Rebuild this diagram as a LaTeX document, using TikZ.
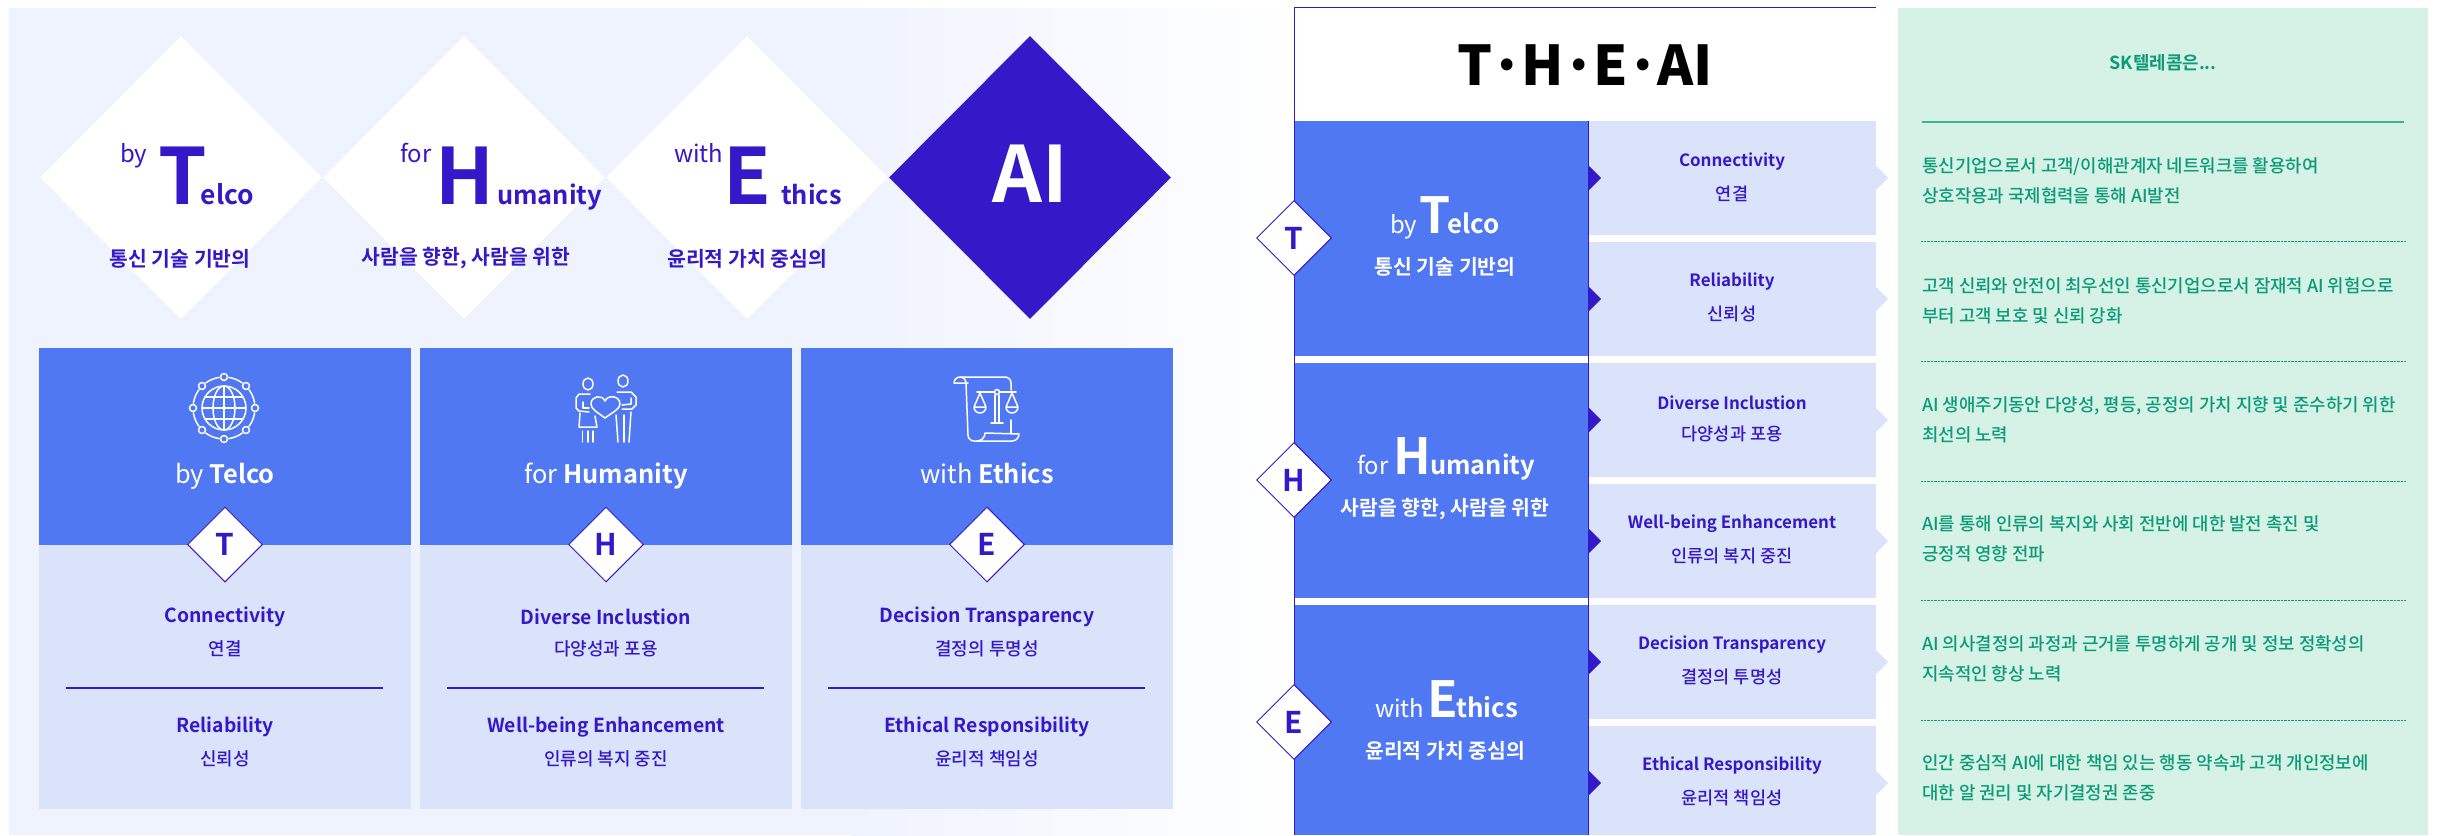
\documentclass[tikz,border=0pt]{standalone}
\usepackage{fontspec}
\setmainfont{Noto Sans CJK KR}[BoldFont={Noto Sans CJK KR Bold}]
\newfontfamily\medfont{Noto Sans CJK KR Medium}
\newfontfamily\blackfont{Noto Sans CJK KR Black}
\usetikzlibrary{shapes.geometric}
\definecolor{paleblue}{HTML}{EFF3FE}
\definecolor{midblue}{HTML}{5078F2}
\definecolor{lightblue}{HTML}{DBE3FB}
\definecolor{violet}{HTML}{3518C8}
\definecolor{palegreen}{HTML}{D6F2E6}
\definecolor{deepgreen}{HTML}{0B9B76}
\definecolor{rulegreen}{HTML}{3DB294}
\newcommand{\fs}[1]{\fontsize{#1}{#1}\selectfont}
\begin{document}
\begin{tikzpicture}[x=1bp,y=-1bp]
\tikzstyle{every node}+=[inner sep=0pt]
\tikzstyle{bigdia}=[diamond,minimum width=282bp,minimum height=283bp]
\tikzstyle{smalldia}=[diamond,fill=white,draw=violet,line width=1pt,minimum width=75bp,minimum height=75bp,text=violet,font=\fs{30}\bfseries]
\tikzstyle{icon}=[white,line width=1.5bp,line cap=round,line join=round]
\tikzstyle{small}=[anchor=base west,font=\fs{24}]
\tikzstyle{big}=[anchor=base west,font=\fs{78}\bfseries]
\tikzstyle{rest}=[anchor=base west,font=\fs{25.5}\bfseries]
\tikzstyle{kor}=[font=\fs{20.5}\bfseries]
\tikzstyle{head}=[violet,font=\fs{19.4}\bfseries]
\tikzstyle{sub}=[violet,font=\fs{18}\medfont]
\tikzstyle{shead}=[violet,font=\fs{17}\bfseries]
\tikzstyle{ssub}=[violet,font=\fs{17.6}\medfont]
\tikzstyle{desc}=[deepgreen,anchor=west,align=left,font=\fontsize{17.9}{30}\selectfont\medfont]
\useasboundingbox (0,0) rectangle (2443,835);
% left background
\fill [paleblue] (9,8) rectangle (850,835);
\shade [left color=paleblue,right color=white] (850,8) rectangle (1294,835);
% top diamonds
\node [bigdia,fill=white] (diaT) at (181,177.5) {};
\node [bigdia,fill=white] (diaH) at (464,177.5) {};
\node [bigdia,fill=white] (diaE) at (747,177.5) {};
\node [bigdia,fill=violet] (diaAI) at (1030,177.5) {};
\node [small,violet] (byT) at (120,162) {by};
\node [big,violet] (bigT) at (158,204) {T};
\node [rest,font=\fs{26.5}\bfseries,violet] (restT) at (200.5,204) {elco};
\node [kor,violet] (korT) at (180,258.5) {통신 기술 기반의};
\node [small,violet] (forH) at (400,162) {for};
\node [big,violet] (bigH) at (435,204) {H};
\node [rest,violet] (restH) at (497,204) {umanity};
\node [kor,violet] (korH) at (466,258.5) {사람을 향한, 사람을 위한};
\node [small,violet] (withE) at (674,162) {with};
\node [big,violet] (bigE) at (723,204) {E};
\node [rest,violet] (restE) at (781,204) {thics};
\node [kor,violet] (korE) at (747,258.5) {윤리적 가치 중심의};
\node [white,font=\fs{78}\bfseries] (textAI) at (1030,174) {AI};
% cards
\fill [midblue] (39,348) rectangle (411,544.5);
\fill [lightblue] (39,544.5) rectangle (411,809);
\fill [midblue] (420,348) rectangle (792,545);
\fill [lightblue] (420,545) rectangle (792,809);
\fill [midblue] (801,348) rectangle (1173,545);
\fill [lightblue] (801,545) rectangle (1173,809);
\node [white,anchor=base,font=\fs{25.5}] (capT) at (225,483) {by \textbf{Telco}};
\node [white,anchor=base,font=\fs{25.5}] (capH) at (606,483) {for \textbf{Humanity}};
\node [white,anchor=base,font=\fs{25.5}] (capE) at (987,483) {with \textbf{Ethics}};
\node [smalldia] (cardT) at (225,544.5) {T};
\node [smalldia] (cardH) at (606,544.5) {H};
\node [smalldia] (cardE) at (987,544.5) {E};
\node [head] (conA) at (225,617) {Connectivity};
\node [sub] (conB) at (225,649) {연결};
\draw [violet,line width=1.2bp] (66,688) -- (383,688);
\node [head] (relA) at (225,727) {Reliability};
\node [sub] (relB) at (225,759) {신뢰성};
\node [head] (divA) at (606,617) {Diverse Inclustion};
\node [sub] (divB) at (606,649) {다양성과 포용};
\draw [violet,line width=1.2bp] (447,688) -- (764,688);
\node [head] (welA) at (606,727) {Well-being Enhancement};
\node [sub] (welB) at (606,759) {인류의 복지 중진};
\node [head] (decA) at (987,617) {Decision Transparency};
\node [sub] (decB) at (987,649) {결정의 투명성};
\draw [violet,line width=1.2bp] (828,688) -- (1145,688);
\node [head] (ethA) at (987,727) {Ethical Responsibility};
\node [sub] (ethB) at (987,759) {윤리적 책임성};
% globe icon
\draw [icon] (224,408) circle (22);
\draw [icon] (224,408) ellipse (11 and 22);
\draw [icon] (224,386) -- (224,430);
\draw [icon] (202,408) -- (246,408);
\draw [icon] (205,397) -- (243,397);
\draw [icon] (205,419) -- (243,419);
\draw [icon] (255,408) circle (3.5);
\draw [icon] (246,430) circle (3.5);
\draw [icon] (224,439) circle (3.5);
\draw [icon] (202,430) circle (3.5);
\draw [icon] (193,408) circle (3.5);
\draw [icon] (202,386) circle (3.5);
\draw [icon] (224,377) circle (3.5);
\draw [icon] (246,386) circle (3.5);
\draw [icon] ([shift={(224,408)}]9:31) arc (9:36:31);
\draw [icon] ([shift={(224,408)}]54:31) arc (54:81:31);
\draw [icon] ([shift={(224,408)}]99:31) arc (99:126:31);
\draw [icon] ([shift={(224,408)}]144:31) arc (144:171:31);
\draw [icon] ([shift={(224,408)}]189:31) arc (189:216:31);
\draw [icon] ([shift={(224,408)}]234:31) arc (234:261:31);
\draw [icon] ([shift={(224,408)}]279:31) arc (279:306:31);
\draw [icon] ([shift={(224,408)}]324:31) arc (324:351:31);
% people icon
\draw [icon] (588,384) ellipse (5 and 6);
\draw [icon] (623,381) ellipse (5 and 6);
\draw [icon] (605,418) .. controls (597,412) and (591,409) .. (591,404) .. controls (591,396) and (602,394) .. (605,401) .. controls (608,394) and (620,396) .. (620,404) .. controls (620,409) and (613,412) .. (605,418);
\draw [icon] (590,394) -- (579,394) -- (576,398) -- (576,408) -- (579,411) -- (589,412);
\draw [icon] (583,402) -- (583,408) -- (589,408);
\draw [icon] (580,413) -- (579,427) -- (597,427) -- (595,416);
\draw [icon] (582.5,431) -- (582.5,442);
\draw [icon] (588,431) -- (588,442);
\draw [icon] (593,431) -- (593,442);
\draw [icon] (617,392) -- (631,392) -- (636,397) -- (636,405) -- (632,409) -- (622,409);
\draw [icon] (631,398) -- (631,404) -- (622,405);
\draw [icon] (616,415) -- (618,442);
\draw [icon] (624,415) -- (624,442);
\draw [icon] (631,412) -- (629,442);
% scroll icon
\draw [icon] (968,383) -- (954,383) arc (180:270:6) -- (1005,377) arc (270:360:6) -- (1011,390);
\draw [icon] (960,377) arc (270:360:6) -- (968,435) arc (180:90:6) -- (1012,441) arc (90:0:7) -- (985,433) arc (0:90:8);
\draw [icon] (1011,420) -- (1011,433);
\draw [icon] (977,392) -- (994.5,392);
\draw [icon] (999.5,392) -- (1016,392);
\draw [icon] (997,392) circle (2.5);
\draw [icon] (995,395) -- (995,423);
\draw [icon] (999,395) -- (999,423);
\draw [icon] (991,423) -- (1003,423);
\draw [icon] (974,407) -- (980,393) -- (986,407) -- (974,407) arc (180:0:6);
\draw [icon] (1006,407) -- (1012,393) -- (1018,407) -- (1006,407) arc (180:0:6);
% right panel
\fill [white] (1294,7) rectangle (1876,121);
\fill [midblue] (1294,121) rectangle (1588,356);
\fill [midblue] (1294,363) rectangle (1588,598);
\fill [midblue] (1294,605) rectangle (1588,835);
\fill [lightblue] (1589,121) rectangle (1876,235);
\fill [lightblue] (1589,242) rectangle (1876,356);
\fill [lightblue] (1589,363) rectangle (1876,477);
\fill [lightblue] (1589,484) rectangle (1876,598);
\fill [lightblue] (1589,605) rectangle (1876,719);
\fill [lightblue] (1589,726) rectangle (1876,835);
\fill [lightblue] (1876,166) -- (1888,178) -- (1876,190);
\fill [lightblue] (1876,287) -- (1888,299) -- (1876,311);
\fill [lightblue] (1876,408) -- (1888,420) -- (1876,432);
\fill [lightblue] (1876,529) -- (1888,541) -- (1876,553);
\fill [lightblue] (1876,650) -- (1888,662) -- (1876,674);
\fill [lightblue] (1876,771) -- (1888,783) -- (1876,795);
\draw [violet,line width=1pt] (1876,7) -- (1294,7) -- (1294,835);
\draw [violet,line width=1pt] (1588.5,121) -- (1588.5,835);
\fill [violet] (1589,166) -- (1601,178) -- (1589,190);
\fill [violet] (1589,287) -- (1601,299) -- (1589,311);
\fill [violet] (1589,408) -- (1601,420) -- (1589,432);
\fill [violet] (1589,529) -- (1601,541) -- (1589,553);
\fill [violet] (1589,650) -- (1601,662) -- (1589,674);
\fill [violet] (1589,771) -- (1601,783) -- (1589,795);
\node [black,font=\fs{55}\blackfont] (title) at (1585,65) {T\kern-2bp·\kern-2bp H\kern-2bp·\kern-2bp E\kern-2bp·\kern-2bp AI};
\node [white,small] (rbyT) at (1390,233) {by};
\node [white,big,font=\fs{50}\bfseries] (rbigT) at (1419,233) {T};
\node [white,rest,font=\fs{26}\bfseries] (rrestT) at (1447,233) {elco};
\node [white,kor] (rkorT) at (1445,267) {통신 기술 기반의};
\node [white,small] (rforH) at (1357,474) {for};
\node [white,big,font=\fs{50}\bfseries] (rbigH) at (1393,474) {H};
\node [white,rest] (rrestH) at (1430,474) {umanity};
\node [white,kor] (rkorH) at (1445,509) {사람을 향한, 사람을 위한};
\node [white,small] (rwithE) at (1375,717) {with};
\node [white,big,font=\fs{50}\bfseries] (rbigE) at (1427,717) {E};
\node [white,rest,font=\fs{26}\bfseries] (rrestE) at (1456,717) {thics};
\node [white,kor] (rkorE) at (1445,751) {윤리적 가치 중심의};
\node [smalldia] (sideT) at (1294,238) {T};
\node [smalldia] (sideH) at (1294,480) {H};
\node [smalldia] (sideE) at (1294,722) {E};
\node [shead] (rconA) at (1732,162) {Connectivity};
\node [ssub] (rconB) at (1732,194) {연결};
\node [shead] (rrelA) at (1732,282) {Reliability};
\node [ssub] (rrelB) at (1732,314) {신뢰성};
\node [shead] (rdivA) at (1732,403) {Diverse Inclustion};
\node [ssub] (rdivB) at (1732,434) {다양성과 포용};
\node [shead] (rwelA) at (1732,524) {Well-being Enhancement};
\node [ssub] (rwelB) at (1732,556) {인류의 복지 중진};
\node [shead] (rdecA) at (1732,645) {Decision Transparency};
\node [ssub] (rdecB) at (1732,677) {결정의 투명성};
\node [shead] (rethA) at (1732,766) {Ethical Responsibility};
\node [ssub] (rethB) at (1732,798) {윤리적 책임성};
% green panel
\fill [palegreen] (1898,8) rectangle (2428,835);
\node [deepgreen,font=\fs{18}\bfseries] (skt) at (2163,63) {SK텔레콤은...};
\draw [rulegreen,line width=1.2bp] (1922,122) -- (2404,122);
\draw [deepgreen,densely dotted] (1921,241) -- (2406,241);
\draw [deepgreen,densely dotted] (1921,361) -- (2406,361);
\draw [deepgreen,densely dotted] (1921,481) -- (2406,481);
\draw [deepgreen,densely dotted] (1921,600) -- (2406,600);
\draw [deepgreen,densely dotted] (1921,720) -- (2406,720);
\node [desc] (descA) at (1922,181) {통신기업으로서 고객/이해관계자 네트워크를 활용하여\\상호작용과 국제협력을 통해 AI발전};
\node [desc] (descB) at (1922,301) {고객 신뢰와 안전이 최우선인 통신기업으로서 잠재적 AI 위험으로\\부터 고객 보호 및 신뢰 강화};
\node [desc] (descC) at (1922,420) {AI 생애주기동안 다양성, 평등, 공정의 가치 지향 및 준수하기 위한\\최선의 노력};
\node [desc] (descD) at (1922,539) {AI를 통해 인류의 복지와 사회 전반에 대한 발전 촉진 및\\긍정적 영향 전파};
\node [desc] (descE) at (1922,659) {AI 의사결정의 과정과 근거를 투명하게 공개 및 정보 정확성의\\지속적인 향상 노력};
\node [desc] (descF) at (1922,778) {인간 중심적 AI에 대한 책임 있는 행동 약속과 고객 개인정보에\\대한 알 권리 및 자기결정권 존중};
\end{tikzpicture}
\end{document}
